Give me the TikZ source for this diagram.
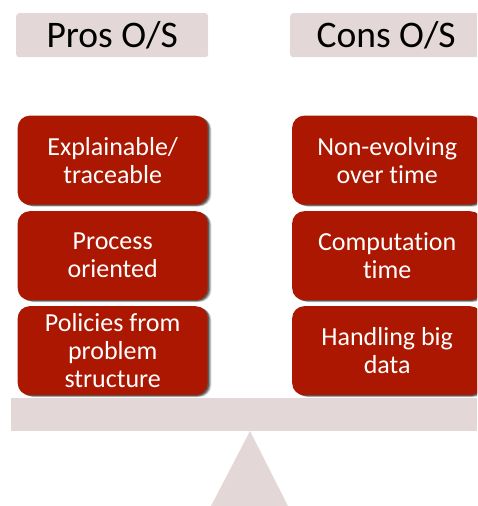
\documentclass[tikz,border=0pt]{standalone}
\usepackage{fontspec}
\setmainfont[Ligatures=NoCommon]{Carlito}
\usetikzlibrary{shadows}
\definecolor{pale}{HTML}{E4D7D8}
\definecolor{brick}{HTML}{AB1700}
\tikzset{
  x=1pt,y=-1pt,
  titlebox/.style={fill=pale,rounded corners=3pt,minimum width=192pt,minimum height=44pt,inner sep=0pt,anchor=north west,font=\fontsize{37.5}{40}\selectfont,text=black},
  itembox/.style={fill=brick,rounded corners=12pt,minimum width=190pt,minimum height=89pt,inner sep=0pt,anchor=north west,align=center,text=white,font=\fontsize{26}{28}\selectfont,
    general shadow={shadow xshift=3.6pt,shadow yshift=-1.8pt,fill=black,opacity=.18},
    general shadow={shadow xshift=2.6pt,shadow yshift=-1.3pt,fill=black,opacity=.28},
    general shadow={shadow xshift=1.5pt,shadow yshift=-.8pt,fill=black,opacity=.4}},
  plinth/.style={fill=pale,draw=none}
}
\begin{document}
\begin{tikzpicture}
\useasboundingbox (0,0) rectangle (477,506);
\clip (0,0) rectangle (477,506);
\node[titlebox] (prosT) at (16,13) {\raisebox{-2pt}{Pros O/S}};
\node[titlebox] (consT) at (290,13) {\raisebox{-2pt}{Cons O/S}};
\node[itembox] (p1) at (17.5,115.5) {Explainable/\\traceable};
\node[itembox] (p2) at (17.5,211) {Process\\oriented};
\node[itembox] (p3) at (17.5,306) {Policies from\\problem\\structure};
\node[itembox] (c1) at (292,115.5) {Non-evolving\\over time};
\node[itembox] (c2) at (292,211) {Computation\\time};
\node[itembox] (c3) at (292,306) {Handling big\\data};
\fill[plinth] (11,397.5) rectangle (477,431);
\fill[plinth] (250,431) -- (288,506) -- (211,506) -- cycle;
\end{tikzpicture}
\end{document}
